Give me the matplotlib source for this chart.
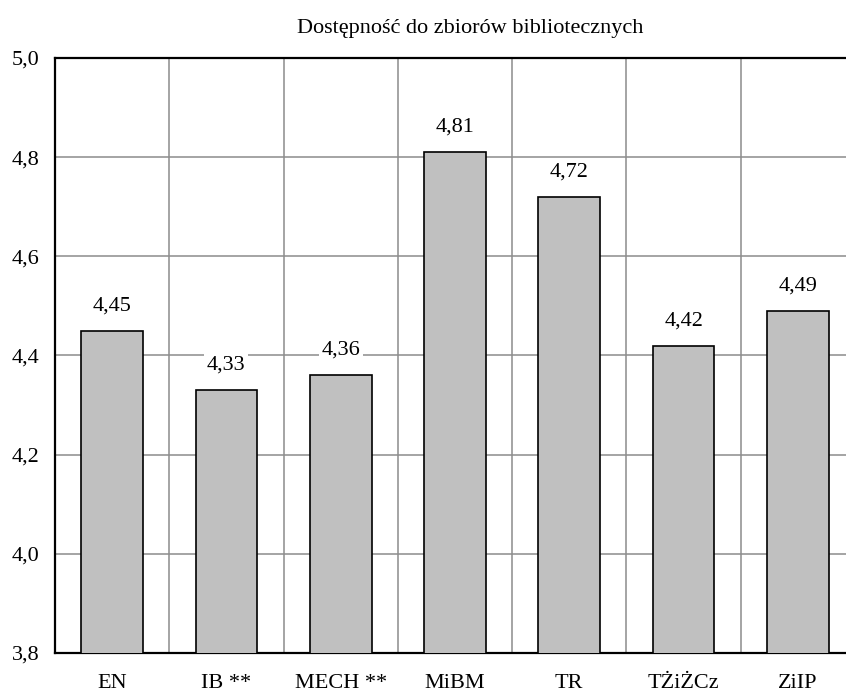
import matplotlib.pyplot as plt
import numpy as np

kategorie = ["EN", "IB **", "MECH **", "MiBM", "TR", "TŻiŻCz", "ZiIP"]
wartosci = [4.45, 4.33, 4.36, 4.81, 4.72, 4.42, 4.49]
y_ticks = [3.8, 4.0, 4.2, 4.4, 4.6, 4.8, 5.0]

plt.rcParams['font.family'] = ['Liberation Serif', 'DejaVu Serif']

fig = plt.figure(figsize=(8.46, 6.93), dpi=100)
# prawa krawedz wykresu wychodzi poza obraz (jak w oryginale)
ax = fig.add_axes([55/846, 1-653/693, 800/846, 595/693])

x = np.arange(len(kategorie))
ax.bar(x, wartosci, width=0.54, color="#c0c0c0", edgecolor="black",
       linewidth=1.2, zorder=3, bottom=0)

for xi, v in zip(x, wartosci):
    ax.annotate(f"{v:.2f}".replace(".", ","), (xi, v), xytext=(0, 18),
                textcoords="offset points", ha="center", va="center",
                fontsize=16, zorder=5,
                bbox=dict(facecolor="white", edgecolor="none", pad=2))

ax.set_xlim(-0.5, len(kategorie) - 0.5)
ax.set_ylim(3.8, 5.0)
ax.set_yticks(y_ticks)
ax.set_yticklabels([f"{t:.1f}".replace(".", ",") for t in y_ticks], fontsize=16)
ax.set_xticks(x)
ax.set_xticklabels(kategorie, fontsize=16)
ax.set_xticks(np.arange(0.5, len(kategorie) - 0.5), minor=True)

ax.tick_params(axis="both", which="both", length=0)
ax.tick_params(axis="x", pad=15)
ax.tick_params(axis="y", pad=11)

ax.grid(axis="y", which="major", color="#8c8c8c", linewidth=1.1, zorder=1)
ax.grid(axis="x", which="minor", color="#8c8c8c", linewidth=1.1, zorder=1)
ax.set_axisbelow(True)

for s in ax.spines.values():
    s.set_linewidth(1.6)
    s.set_color("black")

fig.text(470/846, 1-28/693, "Dostępność do zbiorów bibliotecznych",
         ha="center", va="center", fontsize=16)

fig.savefig("out.png", dpi=100)
